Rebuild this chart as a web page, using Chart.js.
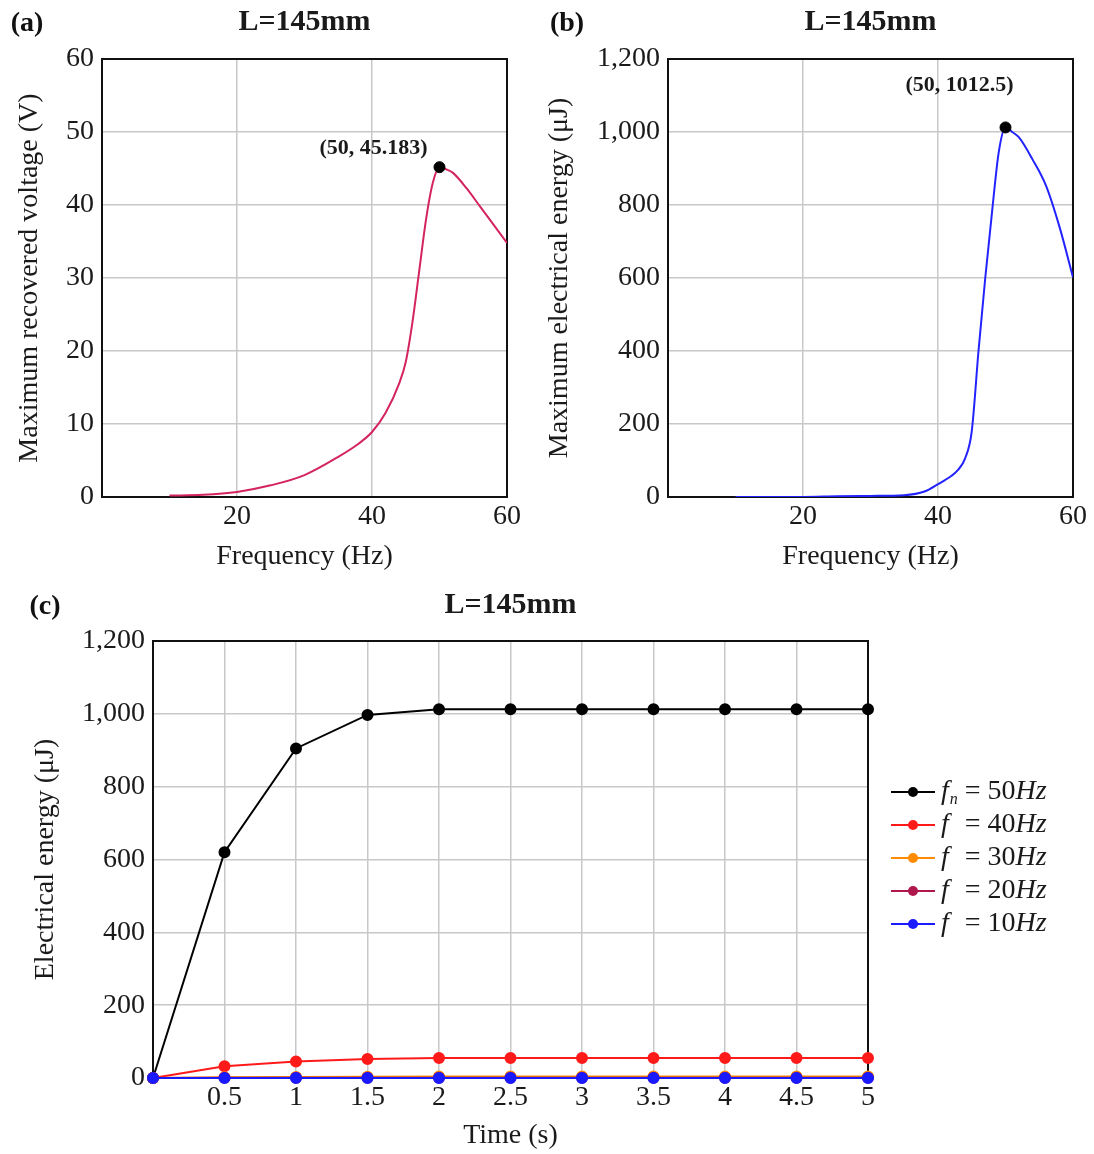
<!DOCTYPE html>
<html>
<head>
<meta charset="utf-8">
<script src="https://cdn.jsdelivr.net/npm/chart.js@4.4.1/dist/chart.umd.min.js"></script>
<style>
  body { margin: 0; background: #fff; }
  #wrap { position: relative; width: 1094px; height: 1154px; }
  #wrap canvas { position: absolute; }
  .tag { position: absolute; font: bold 28px "Liberation Serif", serif; color: #111; transform: translate(-50%, -50%); }
</style>
</head>
<body>
<div id="wrap">
  <canvas id="chartA" width="540" height="580" style="left:0;top:0"></canvas>
  <canvas id="chartB" width="554" height="580" style="left:540px;top:0"></canvas>
  <canvas id="chartC" width="1094" height="574" style="left:0;top:580px"></canvas>
  <div class="tag" style="left:27px;top:22px">(a)</div>
  <div class="tag" style="left:567px;top:22px">(b)</div>
  <div class="tag" style="left:45px;top:605px">(c)</div>
</div>
<script>
// ---- data ----
const titleText = "L=145mm";

// (a) max recovered voltage vs frequency
const freqA = [10, 15, 20, 25, 30, 35, 38, 40, 42, 44, 45, 46, 47, 48, 49, 50, 51, 52, 54, 56, 58, 60];
const voltA = [0.2, 0.3, 0.7, 1.6, 3.0, 5.5, 7.3, 8.9, 11.5, 15.5, 18.5, 24, 31, 38, 43, 45.183, 44.9, 44.4, 42.3, 39.8, 37.3, 34.8];
const peakA = [50, 45.183];

// (b) max electrical energy vs frequency
const freqB = [10, 15, 20, 25, 30, 35, 38, 40, 42, 43, 44, 45, 46, 47, 48, 49, 50, 51, 52, 54, 56, 58, 60];
const energyB = [0, 0, 0, 2, 3, 5, 15, 35, 58, 75, 105, 180, 400, 600, 780, 945, 1012.5, 1000, 985, 925, 853, 740, 602];
const peakB = [50, 1012.5];

// (c) electrical energy vs time
const timeC = [0, 0.5, 1, 1.5, 2, 2.5, 3, 3.5, 4, 4.5, 5];
const e50 = [0, 620, 905, 997, 1012.5, 1012.5, 1012.5, 1012.5, 1012.5, 1012.5, 1012.5];
const e40 = [0, 32, 45, 52, 55, 55, 55, 55, 55, 55, 55];
const e30 = [0, 2, 3, 3.5, 4, 4, 4, 4, 4, 4, 4];
const e20 = [0, 0.5, 0.8, 0.9, 1, 1, 1, 1, 1, 1, 1];
const e10 = [0, 0.1, 0.1, 0.2, 0.2, 0.2, 0.2, 0.2, 0.2, 0.2, 0.2];
const seriesFreq = [50, 40, 30, 20, 10];
const seriesSub = ["n", "", "", "", ""];
const seriesC = [e50, e40, e30, e20, e10];

// ---- styles ----
const FONT = '"Liberation Serif", "Times New Roman", serif';
const INK = "#1a1a1a";
const GRID = "#c8c8c8";
const seriesColor = ["#000000", "#ff1a1a", "#ff8c00", "#b0174c", "#1a1aff"];

function pts(xs, ys){
  return xs.map((x, i) => ({ x: x, y: ys[i] }));
}

// box around the plot area
const frame = {
  id: "frame",
  beforeDatasetsDraw(chart){
    const a = chart.chartArea, ctx = chart.ctx;
    ctx.save();
    ctx.strokeStyle = "#111";
    ctx.lineWidth = 2;
    ctx.strokeRect(a.left, a.top, a.right - a.left, a.bottom - a.top);
    ctx.restore();
  }
};

// "(50, value)" label next to the peak point
function peakLabel(peak, dx, dy){
  return {
    id: "peakLabel",
    afterDatasetsDraw(chart){
      const ctx = chart.ctx;
      const px = chart.scales.x.getPixelForValue(peak[0]);
      const py = chart.scales.y.getPixelForValue(peak[1]);
      ctx.save();
      ctx.font = "bold 22px " + FONT;
      ctx.fillStyle = INK;
      ctx.textAlign = "center";
      ctx.textBaseline = "middle";
      ctx.fillText("(" + peak[0] + ", " + peak[1] + ")", px + dx, py + dy);
      ctx.restore();
    }
  };
}

function axisOpts(o){
  return {
    type: "linear",
    min: o.min, max: o.max,
    afterFit: o.fit,
    border: { color: "#111", width: 2 },
    grid: { color: GRID, lineWidth: 1.5, drawTicks: false },
    ticks: {
      stepSize: o.step, padding: o.pad, color: INK, autoSkip: false, maxRotation: 0,
      font: { family: FONT, size: 28 },
      callback: o.cb
    },
    title: {
      display: true, text: o.title, color: INK,
      font: { family: FONT, size: 28 },
      padding: o.titlePad
    }
  };
}

function baseOpts(o){
  return {
    responsive: false,
    animation: false,
    layout: { padding: o.layoutPad },
    plugins: {
      legend: { display: false },
      tooltip: { enabled: false },
      title: {
        display: true, text: titleText, color: INK, fullSize: false,
        font: { family: FONT, size: 30, weight: "bold" },
        padding: o.titlePad
      }
    },
    scales: { x: axisOpts(o.x), y: axisOpts(o.y) }
  };
}

const hideZero = v => v === 0 ? "" : v;
const grouped = v => v.toLocaleString("en-US");

// ---- (a) ----
new Chart(document.getElementById("chartA"), {
  type: "line",
  data: {
    datasets: [
      { data: [{ x: peakA[0], y: peakA[1] }], showLine: false, pointRadius: 5.5,
        pointBackgroundColor: "#000", pointBorderColor: "#000", clip: false },
      { data: pts(freqA, voltA), borderColor: "#d4245e", borderWidth: 2, pointRadius: 0,
        tension: 0.4, cubicInterpolationMode: "monotone" }
    ]
  },
  options: baseOpts({
    layoutPad: { left: 0, right: 33, top: 0, bottom: 0 },
    titlePad: { top: 4, bottom: 19 },
    x: { min: 0, max: 60, step: 20, pad: 3, cb: hideZero, title: "Frequency (Hz)",
         titlePad: { top: 0, bottom: 7 }, fit: s => { s.height = 83; } },
    y: { min: 0, max: 60, step: 10, pad: 8, cb: grouped, title: "Maximum recovered voltage (V)",
         titlePad: { top: 13, bottom: 0 }, fit: s => { s.width = 102; } }
  }),
  plugins: [frame, peakLabel(peakA, -66, -19)]
});

// ---- (b) ----
new Chart(document.getElementById("chartB"), {
  type: "line",
  data: {
    datasets: [
      { data: [{ x: peakB[0], y: peakB[1] }], showLine: false, pointRadius: 5.5,
        pointBackgroundColor: "#000", pointBorderColor: "#000", clip: false },
      { data: pts(freqB, energyB), borderColor: "#2323ff", borderWidth: 2, pointRadius: 0,
        tension: 0.4, cubicInterpolationMode: "monotone" }
    ]
  },
  options: baseOpts({
    layoutPad: { left: 0, right: 21, top: 0, bottom: 0 },
    titlePad: { top: 4, bottom: 19 },
    x: { min: 0, max: 60, step: 20, pad: 3, cb: hideZero, title: "Frequency (Hz)",
         titlePad: { top: 0, bottom: 7 }, fit: s => { s.height = 83; } },
    y: { min: 0, max: 1200, step: 200, pad: 8, cb: grouped, title: "Maximum electrical energy (\u03BCJ)",
         titlePad: { top: 3, bottom: 0 }, fit: s => { s.width = 128; } }
  }),
  plugins: [frame, peakLabel(peakB, -46, -42)]
});

// ---- (c) ----
const legendC = {
  id: "legendC",
  afterDraw(chart){
    const ctx = chart.ctx;
    const x0 = 891, top = 212, gap = 33;
    ctx.save();
    ctx.textBaseline = "middle";
    ctx.textAlign = "left";
    ctx.font = "italic 28px " + FONT;
    const fw = ctx.measureText("f").width + 1;
    ctx.font = "italic 16px " + FONT;
    const sw = ctx.measureText("n").width;
    seriesFreq.forEach((f, i) => {
      const y = top + i * gap;
      ctx.strokeStyle = seriesColor[i];
      ctx.fillStyle = seriesColor[i];
      ctx.lineWidth = 2;
      ctx.beginPath(); ctx.moveTo(x0, y); ctx.lineTo(x0 + 44, y); ctx.stroke();
      ctx.beginPath(); ctx.arc(x0 + 22, y, 5, 0, Math.PI * 2); ctx.fill();
      ctx.fillStyle = INK;
      let x = x0 + 50;
      ctx.font = "italic 28px " + FONT;
      ctx.fillText("f", x, y);
      if (seriesSub[i]) {
        ctx.font = "italic 16px " + FONT;
        ctx.fillText(seriesSub[i], x + fw, y + 8);
      }
      x += fw + sw;
      ctx.font = "28px " + FONT;
      const mid = " = " + f;
      ctx.fillText(mid, x, y); x += ctx.measureText(mid).width;
      ctx.font = "italic 28px " + FONT;
      ctx.fillText("Hz", x, y);
    });
    ctx.restore();
  }
};

new Chart(document.getElementById("chartC"), {
  type: "line",
  data: {
    datasets: seriesC.map((vals, i) => ({
      label: "f" + seriesSub[i] + " = " + seriesFreq[i] + "Hz",
      data: pts(timeC, vals),
      borderColor: seriesColor[i],
      backgroundColor: seriesColor[i],
      pointBackgroundColor: seriesColor[i],
      pointBorderColor: seriesColor[i],
      borderWidth: 2, pointRadius: 5, tension: 0, clip: false,
      order: seriesC.length - i
    }))
  },
  options: baseOpts({
    layoutPad: { left: 0, right: 226, top: 0, bottom: 0 },
    titlePad: { top: 7, bottom: 18 },
    x: { min: 0, max: 5, step: 0.5, pad: 3, cb: hideZero, title: "Time (s)",
         titlePad: { top: 0, bottom: 2 }, fit: s => { s.height = 76; } },
    y: { min: 0, max: 1200, step: 200, pad: 8, cb: grouped, title: "Electrical energy (\u03BCJ)",
         titlePad: { top: 29, bottom: 0 }, fit: s => { s.width = 153; } }
  }),
  plugins: [frame, legendC]
});
</script>
</body>
</html>
